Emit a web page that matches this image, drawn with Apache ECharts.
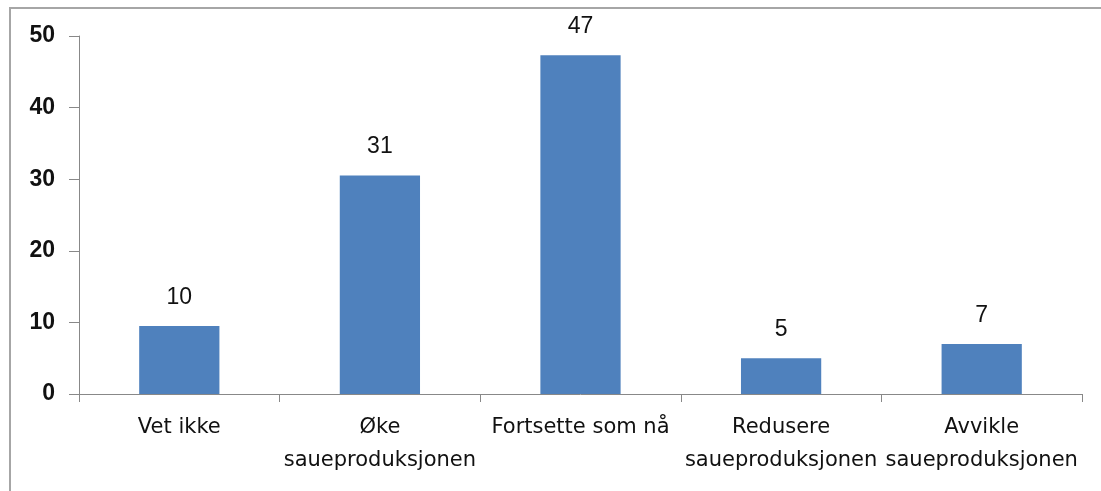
<!DOCTYPE html>
<html>
<head>
<meta charset="utf-8">
<script src="https://cdn.jsdelivr.net/npm/echarts@6/dist/echarts.min.js"></script>
<style>
  *{ margin:0; padding:0; }
  body{ width:1101px; height:491px; background:#fff; position:relative; overflow:hidden; }
  #frame{
    position:absolute; left:9px; top:7px; right:-5px; bottom:-5px;
    border-top:2px solid #a6a6a6;
    border-left:2px solid #a6a6a6;
  }
  #chart{ position:absolute; left:0; top:0; width:1101px; height:491px; }
</style>
</head>
<body>
<div id="frame"></div>
<div id="chart"></div>
<script>
// kategorier og verdier lest av bildet
var categories = ['Vet ikke', 'Øke\nsaueproduksjonen', 'Fortsette som nå', 'Redusere\nsaueproduksjonen', 'Avvikle\nsaueproduksjonen'];
var values = [9.5, 30.5, 47.3, 5.0, 7.0];
var yTicks = [0, 10, 20, 30, 40, 50];

var chart = echarts.init(document.getElementById('chart'));
chart.setOption({
  animation: false,
  grid: {
    left: 79,
    right: 19,
    top: 36,
    bottom: 97
  },
  xAxis: {
    type: 'category',
    data: categories,
    axisLine: { lineStyle: { color: '#888', width: 1 } },
    axisTick: { show: true, length: 8, lineStyle: { color: '#888' } },
    axisLabel: {
      interval: 0,
      margin: 17,
      color: '#111',
      fontFamily: 'DejaVu Sans',
      fontSize: 21,
      lineHeight: 33
    }
  },
  yAxis: {
    type: 'value',
    min: yTicks[0],
    max: yTicks[yTicks.length - 1],
    interval: 10,
    splitLine: { show: false },
    axisLine: { show: true, lineStyle: { color: '#888', width: 1 } },
    axisTick: { show: true, length: 10, lineStyle: { color: '#888' } },
    axisLabel: {
      margin: 24,
      color: '#111',
      fontFamily: 'Liberation Sans',
      fontWeight: 'bold',
      fontSize: 23
    }
  },
  series: [{
    type: 'bar',
    data: values,
    barCategoryGap: '60%',
    itemStyle: { color: '#4F81BD' },
    label: {
      show: true,
      position: 'top',
      distance: 17,
      color: '#111',
      fontFamily: 'Liberation Sans',
      fontSize: 23,
      formatter: function (p) { return Math.round(p.value); }
    }
  }]
});
</script>
</body>
</html>
